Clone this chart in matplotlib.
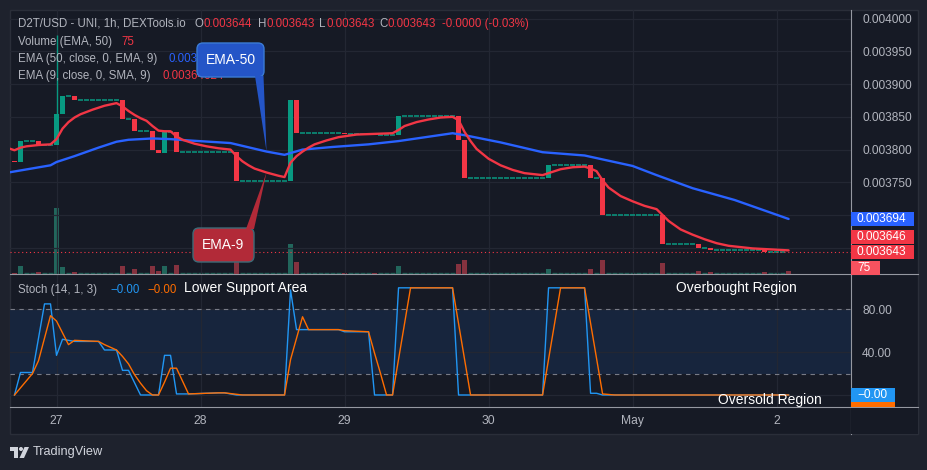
import matplotlib
matplotlib.use('Agg')
import matplotlib.pyplot as plt
from matplotlib.patches import Rectangle, FancyBboxPatch, Polygon, Circle

W, H = 928, 470
plt.rcParams['font.family'] = ['Liberation Sans', 'DejaVu Sans']

# ---- values ----
# one candle per hour, hour 0 = 27 Apr 00:00, prices in millionths of a USD
hours = list(range(-7, 123))
first_open = 3783
closes = [
    3781, 3813, 3813, 3813, 3807, 3807, 3807,
    3854, 3882, 3882, 3876, 3876, 3876, 3876, 3876, 3876, 3876, 3876, 3846,
    3846, 3828, 3828, 3828, 3800, 3795, 3827, 3827, 3797, 3797, 3797, 3797,
    3797, 3797, 3797, 3797, 3797, 3797, 3752, 3752, 3752, 3752, 3752, 3752,
    3752, 3752, 3752, 3876, 3826, 3826, 3826, 3826, 3826, 3826, 3826, 3826,
    3824, 3824, 3824, 3824, 3824, 3823, 3823, 3823, 3823, 3852, 3852, 3852,
    3852, 3852, 3852, 3852, 3852, 3852, 3852, 3814, 3757, 3757, 3757, 3757,
    3757, 3757, 3757, 3757, 3757, 3757, 3757, 3757, 3757, 3757, 3776, 3776,
    3776, 3776, 3776, 3776, 3776, 3757, 3757, 3700, 3700, 3700, 3700, 3700,
    3700, 3700, 3700, 3700, 3700, 3656, 3656, 3656, 3656, 3656, 3656, 3649,
    3649, 3647, 3647, 3647, 3647, 3647, 3647, 3647, 3647, 3647, 3644, 3644,
    3644, 3644, 3643,
]
volumes = [
    28, 215, 0, 0, 48, 0, 0,
    1840, 188, 0, 48, 0, 0, 0, 0, 0, 0, 0, 215,
    0, 140, 0, 0, 215, 75, 215, 0, 245, 0, 0, 0,
    0, 0, 0, 0, 0, 0, 390, 0, 0, 0, 0, 0,
    0, 0, 0, 830, 335, 0, 0, 0, 0, 0, 0, 0,
    28, 0, 0, 0, 0, 28, 0, 0, 0, 215, 0, 0,
    0, 0, 0, 0, 0, 0, 0, 270, 385, 0, 0, 0,
    0, 0, 0, 0, 0, 0, 0, 0, 0, 0, 130, 0,
    0, 0, 0, 0, 0, 130, 0, 385, 0, 0, 0, 0,
    0, 0, 0, 0, 0, 300, 0, 0, 0, 0, 0, 75,
    0, 48, 0, 0, 0, 0, 0, 0, 0, 0, 48, 0,
    0, 0, 75,
]
wick_hour, wick_high = 0, 3975

ema50_hours = [-8, -1, 0, 3, 7, 10, 12, 16, 19, 22, 29, 35, 38, 41, 46, 52, 57,
               66, 68, 74, 81, 88, 90, 96, 100, 106, 113, 122]
ema50 = [3765, 3776, 3781, 3790, 3803, 3812, 3815, 3817, 3816, 3814, 3810, 3797,
         3792, 3800, 3804, 3808, 3813, 3825, 3822, 3811, 3796, 3791, 3787, 3775,
         3761, 3741, 3723, 3694]

ema9_hours = [-8, -7, -6, -5, -3, -1, 0, 1, 2, 3, 4, 6, 8, 10, 11, 12, 13, 14, 15,
              16, 17, 18, 19, 20, 21, 23, 25, 27, 29, 30, 31, 32, 33, 35, 37, 38,
              39, 40, 41, 42, 43, 45, 47, 50, 53, 56, 57, 58, 60, 62, 64, 66, 67,
              68, 69, 70, 72, 74, 76, 78, 80, 81, 82, 84, 86, 88, 89, 90, 91, 92,
              94, 96, 98, 100, 101, 102, 104, 106, 108, 110, 112, 114, 116, 118,
              120, 122]
ema9 = [3802, 3799, 3803, 3805, 3807, 3808, 3816, 3832, 3842, 3849, 3854, 3861,
        3867, 3871, 3866, 3859, 3853, 3848, 3844, 3836, 3829, 3828, 3828, 3820,
        3815, 3809, 3805, 3802, 3800, 3790, 3782, 3776, 3771, 3765, 3760, 3758,
        3780, 3790, 3797, 3803, 3808, 3814, 3819, 3823, 3824, 3825, 3830, 3836,
        3842, 3846, 3849, 3850, 3845, 3827, 3813, 3801, 3786, 3776, 3769, 3764,
        3762, 3761, 3764, 3770, 3773, 3774, 3771, 3767, 3753, 3742, 3729, 3721,
        3714, 3709, 3700, 3691, 3678, 3670, 3663, 3657, 3653, 3651, 3649, 3648,
        3647, 3646]

k_hours = [-7, -6, -4, -2, -1, 0, 1, 2, 3, 7, 8, 10, 11, 12, 14, 17, 18, 19, 20,
           22, 27, 28, 30, 38, 39, 40, 47, 48, 52, 53, 56, 57, 66, 67, 81, 82, 88,
           89, 90, 91, 122]
k_vals = [0, 21, 21, 85, 85, 37, 52, 51, 50, 50, 42, 42, 23, 23, 0, 0, 37, 37, 1,
          1, 2, 2, 0, 0, 98, 61, 61, 59, 59, 0, 0, 100, 100, 0, 0, 100, 100, 1.6,
          1.6, 0, 0]
d_hours = [-7, -4, -3, -2, -1, 0, 1, 2, 3, 7, 8, 10, 11, 12, 13, 14, 15, 16, 17,
           18, 19, 20, 21, 22, 27, 28, 31, 38, 39, 40, 41, 42, 47, 48, 52, 53, 54,
           55, 56, 59, 66, 69, 81, 84, 88, 91, 93, 122]
d_vals = [0, 20, 32, 53, 74, 69, 58, 47, 51, 50, 47, 42, 36, 29, 19, 11, 4, 0, 0,
          12, 25, 25, 13, 1, 2, 2, 0, 0, 33, 53, 73, 61, 61, 60, 59, 39, 20, 0, 0,
          100, 100, 0, 0, 100, 100, 1, 0, 0]

day_hours = [0, 24, 48, 72, 96, 120]
day_labels = ['27', '28', '29', '30', 'May', '2']
price_ticks = [3650, 3700, 3750, 3800, 3850, 3900, 3950, 4000]
price_hidden = [3650, 3700]      # labels covered by the value badges
stoch_ticks = [0, 40, 80]
stoch_hidden = [0]

# ---- colours ----
BG_OUT = '#1e222d'
BG = '#161a25'
GRID = '#232733'
TXT = '#b2b5be'
SEP = '#9598a1'
UP = '#089981'
DOWN = '#f23645'
BLUE = '#2962ff'
K_COL = '#2196f3'
D_COL = '#ff6d00'

XLIM = (-7.75, 132.4)


def rect(x0, y0, x1, y1):
    # pixel box (top-left origin) -> figure fraction
    return [x0 / W, 1 - y1 / H, (x1 - x0) / W, (y1 - y0) / H]


def style(ax):
    ax.set_facecolor('none')
    for s in ax.spines.values():
        s.set_visible(False)
    ax.yaxis.tick_right()
    ax.tick_params(length=0, colors=TXT, labelsize=8.6)
    ax.tick_params(axis='y', pad=8)
    ax.grid(True, color=GRID, lw=0.9)
    ax.set_axisbelow(True)
    ax.set_xlim(*XLIM)
    ax.set_xticks(day_hours)


fig = plt.figure(figsize=(W / 100, H / 100), dpi=100, facecolor=BG_OUT)

bgax = fig.add_axes([0, 0, 1, 1], zorder=-10)
bgax.set_xlim(0, W)
bgax.set_ylim(H, 0)
bgax.axis('off')
bgax.add_patch(Rectangle((10, 10), 908, 424, fc=BG, ec='#2a2e39', lw=1))

# ---- volume (drawn under the price pane) ----
vol_ax = fig.add_axes(rect(10, 10, 851, 274), zorder=0)
vol_ax.axis('off')
vol_ax.set_xlim(*XLIM)
vol_ax.set_ylim(0, 7392)
opens = [first_open] + closes[:-1]
for h, o, c, v in zip(hours, opens, closes, volumes):
    if v == 0:
        vol_ax.hlines(30, h - 0.38, h + 0.38, color='#1d5c53', lw=1)
    else:
        vol_ax.bar(h, v, width=0.78, color='#22665c' if c >= o else '#85323f', lw=0)

# ---- price pane ----
ax = fig.add_axes(rect(10, 10, 851, 274), zorder=1)
style(ax)
ax.set_ylim(3609.9, 4013.3)
ax.set_yticks(price_ticks)
ax.set_yticklabels(['' if t in price_hidden else f'{t / 1e6:.6f}' for t in price_ticks])
ax.tick_params(axis='x', labelbottom=False)

ax.vlines(wick_hour, closes[hours.index(wick_hour)], wick_high, color=UP, lw=1)
for h, o, c in zip(hours, opens, closes):
    if c == o:
        ax.hlines(c, h - 0.38, h + 0.38, color=UP, lw=1.1)
    else:
        ax.bar(h, c - o, bottom=o, width=0.78, color=UP if c > o else DOWN, lw=0)

ax.plot(ema50_hours, ema50, color=BLUE, lw=1.7, solid_capstyle='round')
ax.plot(ema9_hours, ema9, color=DOWN, lw=1.7, solid_capstyle='round')
ax.axhline(closes[-1], color=DOWN, lw=0.8, ls=(0, (1, 2.5)))

# ---- stochastic pane ----
sx = fig.add_axes(rect(10, 274, 851, 407), zorder=1)
style(sx)
sx.set_ylim(-11.2, 112.9)
sx.set_yticks(stoch_ticks)
sx.set_yticklabels(['' if t in stoch_hidden else f'{t:.2f}' for t in stoch_ticks])
sx.set_xticklabels(day_labels)
sx.tick_params(axis='x', pad=6, labelsize=8.7)
sx.axhspan(20, 80, color='#17253d', lw=0, zorder=0.5)
for lvl in (20, 80):
    sx.axhline(lvl, color='#787b86', lw=0.8, ls=(0, (4, 4)))
sx.plot(k_hours, k_vals, color=K_COL, lw=1)
sx.plot(d_hours, d_vals, color=D_COL, lw=1)

# ---- overlay: legends, badges, callouts ----
deco = fig.add_axes([0, 0, 1, 1], zorder=10)
deco.set_xlim(0, W)
deco.set_ylim(H, 0)
deco.axis('off')
deco.patch.set_visible(False)


def ypix(a, v):
    return H - a.transData.transform((0, v))[1]


def xpix(a, h):
    return a.transData.transform((h, 0))[0]


for y in (274, 407):
    deco.plot([10, 918], [y, y], color=SEP, lw=0.8)
deco.plot([851.5, 851.5], [10, 434], color=SEP, lw=0.8)

fs = 8.3
leg = [
    (18, 24, 'D2T/USD - UNI, 1h, DEXTools.io', TXT),
    (195, 24, 'O', TXT), (204, 24, '0.003644', DOWN),
    (258, 24, 'H', TXT), (267, 24, '0.003643', DOWN),
    (319, 24, 'L', TXT), (327, 24, '0.003643', DOWN),
    (379, 24, 'C', TXT), (388, 24, '0.003643', DOWN),
    (442, 24, '-0.0000 (-0.03%)', DOWN),
    (18, 42, 'Volume (EMA, 50)', TXT), (121, 42, '75', DOWN),
    (18, 59, 'EMA (50, close, 0, EMA, 9)', TXT), (169, 59, '0.00369438', BLUE),
    (18, 76, 'EMA (9, close, 0, SMA, 9)', TXT), (163, 76, '0.00364624', DOWN),
    (18, 290, 'Stoch (14, 1, 3)', TXT), (110, 290, '\u22120.00', K_COL),
    (147, 290, '\u22120.00', D_COL),
]
for x, y, s, c in leg:
    deco.text(x, y, s, color=c, fontsize=fs, va='center', ha='left', zorder=5)

for x, y, s in [(184, 288, 'Lower Support Area'), (676, 288, 'Overbought Region'),
                (718, 400, 'Oversold Region')]:
    deco.text(x, y, s, color='white', fontsize=10, va='center', ha='left', zorder=5)


def badge(x0, yc, w, s, fc, h=14):
    deco.add_patch(Rectangle((x0, yc - h / 2), w, h, fc=fc, ec='none', zorder=8))
    deco.text(x0 + 6, yc, s, color='white', fontsize=8.6, va='center', ha='left', zorder=9)


y_close = ypix(ax, closes[-1])
badge(851, ypix(ax, ema50[-1]), 63, f'{ema50[-1] / 1e6:.6f}', BLUE)
badge(851, y_close - 15, 63, f'{ema9[-1] / 1e6:.6f}', DOWN)
badge(851, y_close, 63, f'{closes[-1] / 1e6:.6f}', DOWN)
badge(851, min(ypix(vol_ax, volumes[-1]), 268), 29, f'{volumes[-1]}', '#f7525f')
y0 = ypix(sx, k_vals[-1])
deco.add_patch(Rectangle((851, y0 + 7), 44, 5, fc=D_COL, ec='none', zorder=7))
badge(851, y0, 44, f'\u2212{k_vals[-1]:.2f}', K_COL)
deco.add_patch(Rectangle((851, 407.5), 67, 26, fc=BG, ec='none', zorder=7.5))

# callouts pointing at the two averages
tip_h = 35
tip50 = (xpix(ax, tip_h), ypix(ax, ema50[ema50_hours.index(tip_h)]))
tip9 = (xpix(ax, tip_h), ypix(ax, ema9[ema9_hours.index(tip_h)]))

deco.add_patch(FancyBboxPatch((197, 43), 67, 34, boxstyle='round,pad=0,rounding_size=6',
                              fc='#2455c7', ec='#3a7bd5', lw=1, zorder=6))
deco.add_patch(Polygon([(255, 76), (263.5, 76), tip50], closed=True, fc='#2455c7',
                       ec='none', zorder=6.5))
deco.text(230.5, 60, 'EMA-50', color='white', fontsize=10, ha='center', va='center', zorder=7)

deco.add_patch(FancyBboxPatch((193, 228), 61, 34, boxstyle='round,pad=0,rounding_size=6',
                              fc='#b22a38', ec='#3d6b78', lw=1, zorder=6))
deco.add_patch(Polygon([(246, 229), (254, 229), tip9], closed=True, fc='#b22a38',
                       ec='none', zorder=6.5))
deco.text(223.5, 245, 'EMA-9', color='white', fontsize=10, ha='center', va='center', zorder=7)

# TradingView mark
lc = '#d1d4dc'
deco.add_patch(Polygon([(10, 447), (18, 447), (18, 458), (14, 458), (14, 451), (10, 451)],
                       closed=True, fc=lc, ec='none'))
deco.add_patch(Circle((21, 449), 2, fc=lc, ec='none'))
deco.add_patch(Polygon([(24.5, 447), (29, 447), (24, 458), (19.5, 458)], closed=True,
                       fc=lc, ec='none'))
deco.text(33, 452.5, 'TradingView', color=lc, fontsize=9.2, va='center', ha='left')

fig.savefig('out.png', dpi=100, facecolor=BG_OUT)
